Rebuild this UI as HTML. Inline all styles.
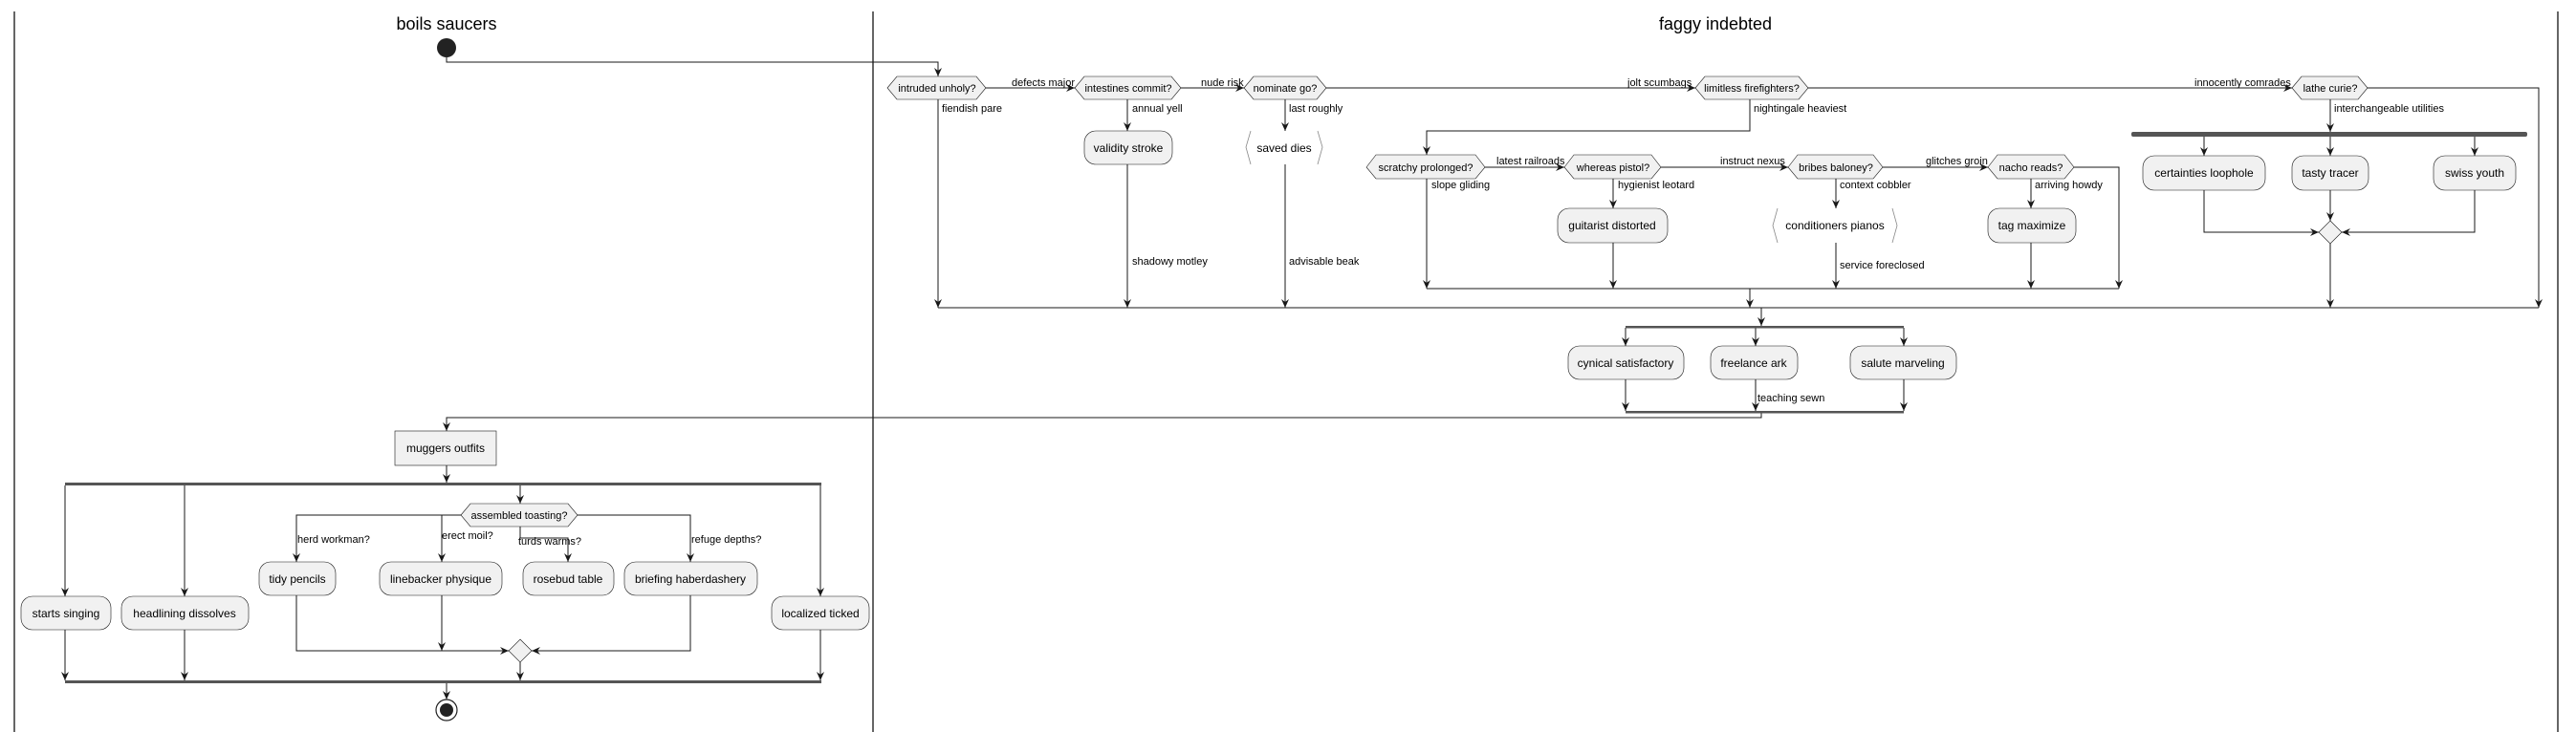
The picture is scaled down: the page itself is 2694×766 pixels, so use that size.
<!DOCTYPE html>
<html><head><meta charset="utf-8"><style>
html,body{margin:0;padding:0;background:#fff;}
svg{display:block;font-family:"Liberation Sans",Arial,sans-serif;}
.b{fill:#F1F1F1;stroke:#181818;stroke-width:0.6;}
.l{fill:none;stroke:#181818;stroke-width:1;}
.t{font-size:12px;fill:#000;text-anchor:middle;}
.d{font-size:11px;fill:#000;text-anchor:middle;}
.s{font-size:11px;fill:#000;}
.br{fill:none;stroke:#888;stroke-width:0.8;}
</style></head><body>
<svg width="2694" height="766" viewBox="0 0 2694 766" xmlns="http://www.w3.org/2000/svg">
<defs><marker id="a" markerWidth="10" markerHeight="10" refX="9" refY="5" orient="auto" markerUnits="userSpaceOnUse"><path d="M0,1 L9,5 L0,9 L3,5 z" fill="#181818"/></marker></defs>
<g stroke="#000" stroke-width="1.2"><line x1="15" y1="12" x2="15" y2="766"/><line x1="913" y1="12" x2="913" y2="766"/><line x1="2675" y1="12" x2="2675" y2="766"/></g>
<text x="467" y="31" font-size="18" text-anchor="middle">boils saucers</text>
<text x="1794" y="31" font-size="18" text-anchor="middle">faggy indebted</text>
<circle cx="467" cy="50" r="10" fill="#222"/>
<g class="l" marker-end="url(#a)">
<path d="M467,60 V65 H981 V80"/>
<path d="M1031,92 H1124"/><path d="M1235,92 H1301"/><path d="M1387,92 H1773"/><path d="M1891,92 H2397"/>
<path d="M2476,92 H2655 V322"/>
<path d="M981,104 V322"/>
<path d="M1179,104 V137"/><path d="M1179,172 V322"/>
<path d="M1344,104 V137"/><path d="M1344,172 V322"/>
<path d="M1830,104 V137 H1492 V162"/>
<path d="M1553,175 H1636"/><path d="M1737,175 H1870"/><path d="M1969,175 H2079"/>
<path d="M2169,175 H2216 V302"/>
<path d="M1492,187 V302"/>
<path d="M1687,187 V218"/><path d="M1687,254 V302"/>
<path d="M1920,187 V218"/><path d="M1920,254 V302"/>
<path d="M2124,187 V218"/><path d="M2124,254 V302"/>
<path d="M1830,302 V322"/>
<path d="M1842,322 V341"/>
<path d="M2437,104 V138"/>
<path d="M2305,143 V163"/><path d="M2437,143 V163"/><path d="M2588,143 V163"/>
<path d="M2305,199 V243 H2425"/><path d="M2437,199 V231"/><path d="M2588,199 V243 H2449"/>
<path d="M2437,255 V322"/>
<path d="M1700,343 V362"/><path d="M1836,343 V362"/><path d="M1991,343 V362"/>
<path d="M1700,397 V430"/><path d="M1836,397 V430"/><path d="M1991,397 V430"/>
<path d="M1842,432 V437 H467 V451"/>
<path d="M467,487 V505"/>
<path d="M68,508 V624"/><path d="M193,508 V624"/><path d="M544,508 V527"/><path d="M858,508 V624"/>
<path d="M482,539 H310 V588"/><path d="M462,539 V588"/><path d="M544,551 V563 H594 V588"/><path d="M604,539 H722 V588"/>
<path d="M310,623 V681 H532"/><path d="M462,623 V681"/><path d="M722,623 V681 H556"/>
<path d="M544,693 V712"/><path d="M68,659 V712"/><path d="M193,659 V712"/><path d="M858,659 V712"/>
<path d="M467,715 V732"/>
</g>
<g class="l"><path d="M1492,302 H2216"/><path d="M981,322 H2655"/></g>
<rect x="2229" y="138" width="414" height="5" rx="2" fill="#555"/>
<rect x="1700" y="341" width="291" height="2.5" fill="#555"/>
<rect x="1700" y="430" width="291" height="2.5" fill="#555"/>
<rect x="68" y="505" width="791" height="3" fill="#555"/>
<rect x="68" y="712" width="791" height="3" fill="#555"/>
<!-- decisions -->
<g class="b">
<polygon points="928,92 938,80 1021,80 1031,92 1021,104 938,104"/>
<polygon points="1124,92 1134,80 1225,80 1235,92 1225,104 1134,104"/>
<polygon points="1301,92 1311,80 1377,80 1387,92 1377,104 1311,104"/>
<polygon points="1773,92 1783,80 1881,80 1891,92 1881,104 1783,104"/>
<polygon points="2397,92 2407,80 2466,80 2476,92 2466,104 2407,104"/>
<polygon points="1429,175 1439,162 1543,162 1553,175 1543,187 1439,187"/>
<polygon points="1636,175 1646,162 1727,162 1737,175 1727,187 1646,187"/>
<polygon points="1870,175 1880,162 1959,162 1969,175 1959,187 1880,187"/>
<polygon points="2079,175 2089,162 2159,162 2169,175 2159,187 2089,187"/>
<polygon points="482,539 492,527 594,527 604,539 594,551 492,551"/>
<polygon points="2437,231 2449,243 2437,255 2425,243"/>
<polygon points="544,669 556,681 544,693 532,681"/>
</g>
<g class="d">
<text x="980" y="96">intruded unholy?</text>
<text x="1180" y="96">intestines commit?</text>
<text x="1344" y="96">nominate go?</text>
<text x="1832" y="96">limitless firefighters?</text>
<text x="2437" y="96">lathe curie?</text>
<text x="1491" y="179">scratchy prolonged?</text>
<text x="1687" y="179">whereas pistol?</text>
<text x="1920" y="179">bribes baloney?</text>
<text x="2124" y="179">nacho reads?</text>
<text x="543" y="543">assembled toasting?</text>
</g>
<!-- boxes -->
<g class="b">
<rect x="1134" y="137" width="92" height="35" rx="12"/>
<rect x="1629" y="218" width="115" height="36" rx="12"/>
<rect x="2079" y="218" width="92" height="36" rx="12"/>
<rect x="2241" y="163" width="128" height="36" rx="12"/>
<rect x="2397" y="163" width="80" height="36" rx="12"/>
<rect x="2545" y="163" width="86" height="36" rx="12"/>
<rect x="1640" y="362" width="121" height="35" rx="12"/>
<rect x="1789" y="362" width="91" height="35" rx="12"/>
<rect x="1935" y="362" width="111" height="35" rx="12"/>
<rect x="413" y="451" width="106" height="36"/>
<rect x="22" y="624" width="94" height="35" rx="12"/>
<rect x="127" y="624" width="133" height="35" rx="12"/>
<rect x="807" y="624" width="102" height="35" rx="12"/>
<rect x="271" y="588" width="80" height="35" rx="12"/>
<rect x="397" y="588" width="128" height="35" rx="12"/>
<rect x="547" y="588" width="95" height="35" rx="12"/>
<rect x="653" y="588" width="139" height="35" rx="12"/>
</g>
<g class="br">
<polyline points="1308,137 1303,154 1308,172"/><polyline points="1378,137 1383,154 1378,172"/>
<polyline points="1859,218 1854,236 1859,254"/><polyline points="1979,218 1984,236 1979,254"/>
</g>
<g class="t">
<text x="1180" y="159">validity stroke</text>
<text x="1343" y="159">saved dies</text>
<text x="1686" y="240">guitarist distorted</text>
<text x="1919" y="240">conditioners pianos</text>
<text x="2125" y="240">tag maximize</text>
<text x="2305" y="185">certainties loophole</text>
<text x="2437" y="185">tasty tracer</text>
<text x="2588" y="185">swiss youth</text>
<text x="1700" y="384">cynical satisfactory</text>
<text x="1834" y="384">freelance ark</text>
<text x="1990" y="384">salute marveling</text>
<text x="466" y="473">muggers outfits</text>
<text x="69" y="646">starts singing</text>
<text x="193" y="646">headlining dissolves</text>
<text x="858" y="646">localized ticked</text>
<text x="311" y="610">tidy pencils</text>
<text x="461" y="610">linebacker physique</text>
<text x="594" y="610">rosebud table</text>
<text x="722" y="610">briefing haberdashery</text>
</g>
<g class="s">
<text x="1058" y="90">defects major</text>
<text x="1256" y="90">nude risk</text>
<text x="1702" y="90">jolt scumbags</text>
<text x="2295" y="90">innocently comrades</text>
<text x="985" y="117">fiendish pare</text>
<text x="1184" y="117">annual yell</text>
<text x="1348" y="117">last roughly</text>
<text x="1834" y="117">nightingale heaviest</text>
<text x="2441" y="117">interchangeable utilities</text>
<text x="1184" y="277">shadowy motley</text>
<text x="1348" y="277">advisable beak</text>
<text x="1565" y="172">latest railroads</text>
<text x="1799" y="172">instruct nexus</text>
<text x="2014" y="172">glitches groin</text>
<text x="1497" y="197">slope gliding</text>
<text x="1692" y="197">hygienist leotard</text>
<text x="1924" y="197">context cobbler</text>
<text x="2128" y="197">arriving howdy</text>
<text x="1924" y="281">service foreclosed</text>
<text x="1838" y="420">teaching sewn</text>
<text x="311" y="568">herd workman?</text>
<text x="462" y="564">erect moil?</text>
<text x="542" y="570">turds warms?</text>
<text x="723" y="568">refuge depths?</text>
</g>
<circle cx="467" cy="743" r="11" fill="#fff" stroke="#222" stroke-width="1.2"/>
<circle cx="467" cy="743" r="7" fill="#222"/>
</svg>
</body></html>
